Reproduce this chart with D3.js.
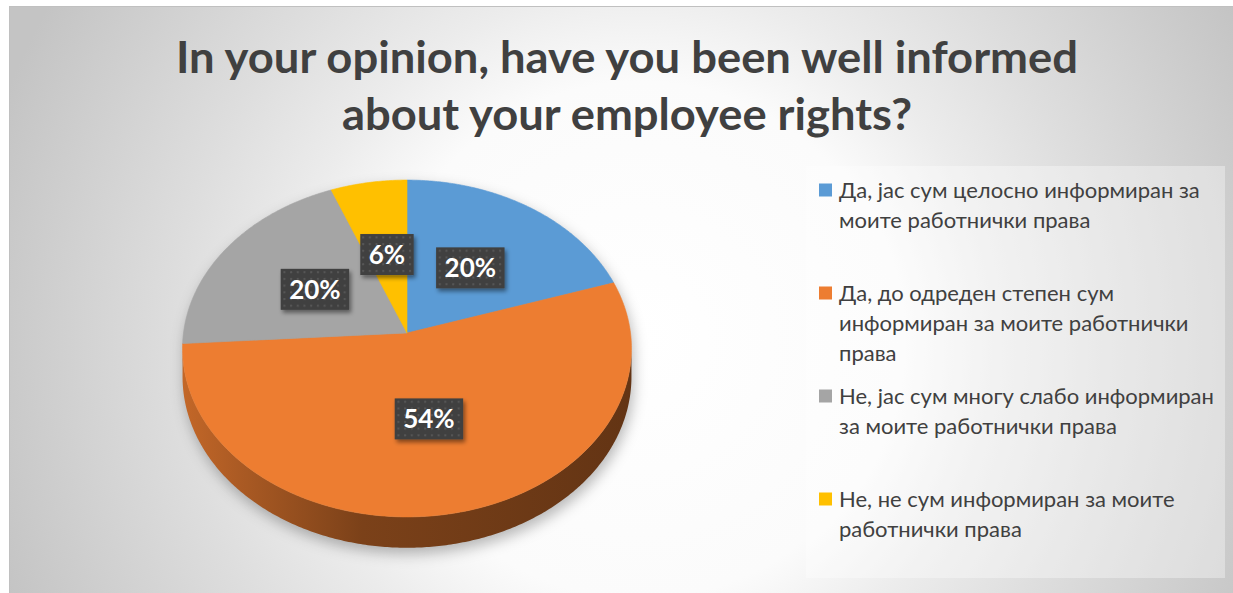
<!DOCTYPE html>
<html>
<head>
<meta charset="utf-8">
<script src="https://cdn.jsdelivr.net/npm/d3@7"></script>
<style>
  html, body { margin: 0; padding: 0; background: #ffffff; }
  svg { display: block; }
</style>
</head>
<body>
<svg id="chart" width="1233" height="593"></svg>
<script>
// ---- data ----
const titleLines = ["In your opinion, have you been well informed", "about your employee rights?"];
const categories = [
  "Да, јас сум целосно информиран за моите работнички права",
  "Да, до одреден степен сум информиран за моите работнички права",
  "Не, јас сум многу слабо информиран за моите работнички права",
  "Не, не сум информиран за моите работнички права"
];
const values = [20, 54, 20, 6];
const colors = ["#5B9BD5", "#ED7D31", "#A5A5A5", "#FFC000"];

// ---- layout ----
const W = 1233, H = 593;
const frame = { x: 9, y: 6, w: 1224, h: 587 };
const pieGeo = { cx: 407, cy: 333, a: 223.5, b: 167, k: 0.092, depth: 28 };
const legendBox = { x: 806, y: 166, w: 419, h: 412 };
const textColor = "#404040";
const titleWidths = [902, 570];

const svg = d3.select("#chart");
const defs = svg.append("defs");

// background: radial light in the middle, grey towards the corners
const bg = defs.append("radialGradient").attr("id", "bgGrad")
  .attr("gradientUnits", "userSpaceOnUse")
  .attr("cx", 640).attr("cy", 340).attr("r", 680);
[[0, "#ffffff"], [0.38, "#fbfbfb"], [0.52, "#ececec"], [0.68, "#dedede"], [1, "#c4c4c4"]]
  .forEach(([o, c]) => bg.append("stop").attr("offset", o).attr("stop-color", c));

svg.append("rect")
  .attr("x", frame.x + 0.5).attr("y", frame.y + 0.5)
  .attr("width", frame.w).attr("height", frame.h)
  .attr("fill", "url(#bgGrad)")
  .attr("stroke", "#c0c0c0").attr("stroke-width", 1);

// ---- title ----
svg.append("text")
  .attr("text-anchor", "middle")
  .attr("font-family", "Lato, 'Open Sans', sans-serif")
  .attr("font-weight", 700)
  .attr("font-size", 43)
  .attr("fill", textColor)
  .selectAll("tspan").data(titleLines).join("tspan")
  .attr("x", 627)
  .attr("y", (d, i) => 73 + i * 57)
  .attr("textLength", (d, i) => titleWidths[i])
  .attr("lengthAdjust", "spacingAndGlyphs")
  .text(d => d);

// ---- pie in perspective ----
const pie = d3.pie().sort(null).value(d => d)(values);
const color = d3.scaleOrdinal().domain(d3.range(values.length)).range(colors);

// project a point of the disk (angle clockwise from 12 o'clock, radius fraction) to the screen
function proj(theta, r) {
  const u = r * Math.sin(theta), v = -r * Math.cos(theta);
  const w = 1 - pieGeo.k * v;
  return [pieGeo.cx + pieGeo.a * u / w, pieGeo.cy + pieGeo.b * v / w, w];
}
function arcPoints(t0, t1, r) {
  const n = Math.max(2, Math.ceil(Math.abs(t1 - t0) / 0.01));
  return d3.range(n + 1).map(i => proj(t0 + (t1 - t0) * i / n, r));
}
const line = d3.line();

// visible side of the cylinder lies between the two silhouette angles
const silR = Math.acos(-pieGeo.k), silL = 2 * Math.PI - silR;
const xMin = proj(silL, 1)[0], xMax = proj(silR, 1)[0];

// soft shadow under the whole disk
const shadow = defs.append("filter").attr("id", "pieShadow")
  .attr("x", "-20%").attr("y", "-20%").attr("width", "140%").attr("height", "140%");
shadow.append("feGaussianBlur").attr("stdDeviation", 7);

const outline = arcPoints(0, 2 * Math.PI, 1).map(p => [p[0], p[1]]);
const lowerRim = arcPoints(silR, silL, 1).map(p => [p[0], p[1] + pieGeo.depth / p[2]]);
svg.append("path")
  .attr("d", "M" + outline.map(p => p.join(",")).join("L") + "Z" +
             "M" + arcPoints(silR, silL, 1).map(p => p[0] + "," + p[1]).join("L") +
             "L" + lowerRim.slice().reverse().map(p => p.join(",")).join("L") + "Z")
  .attr("transform", "translate(2,6)")
  .attr("fill", "#000").attr("fill-opacity", 0.28)
  .attr("filter", "url(#pieShadow)");

const gPie = svg.append("g");

// side walls
pie.forEach((s, i) => {
  const t0 = Math.max(s.startAngle, silR), t1 = Math.min(s.endAngle, silL);
  if (t1 <= t0) return;
  const gid = "wall" + i;
  const c = d3.color(color(i));
  const lg = defs.append("linearGradient").attr("id", gid)
    .attr("gradientUnits", "userSpaceOnUse")
    .attr("x1", xMin).attr("x2", xMax).attr("y1", 0).attr("y2", 0);
  [[0, 0.55], [0.12, 0.9], [0.4, 1.85], [1, 2.45]].forEach(([o, k]) =>
    lg.append("stop").attr("offset", o).attr("stop-color", c.darker(k).formatHex()));
  const top = arcPoints(t0, t1, 1);
  const bottom = top.map(p => [p[0], p[1] + pieGeo.depth / p[2]]).reverse();
  gPie.append("path")
    .attr("d", line(top.map(p => [p[0], p[1]]).concat(bottom)) + "Z")
    .attr("fill", `url(#${gid})`);
});

// top faces
pie.forEach((s, i) => {
  const pts = [proj(0, 0)].concat(arcPoints(s.startAngle, s.endAngle, 1)).map(p => [p[0], p[1]]);
  gPie.append("path")
    .attr("d", line(pts) + "Z")
    .attr("fill", color(i))
    .attr("stroke", color(i)).attr("stroke-width", 0.6);
});

// ---- data labels ----
const dots = defs.append("pattern").attr("id", "dots")
  .attr("patternUnits", "userSpaceOnUse").attr("width", 6.7).attr("height", 6.7);
dots.append("rect").attr("width", 6.7).attr("height", 6.7).attr("fill", "#404040");
dots.append("rect").attr("x", 2).attr("y", 2).attr("width", 2).attr("height", 2).attr("fill", "#575757");

const lblShadow = defs.append("filter").attr("id", "lblShadow")
  .attr("x", "-30%").attr("y", "-30%").attr("width", "170%").attr("height", "170%");
lblShadow.append("feDropShadow").attr("dx", 2).attr("dy", 3).attr("stdDeviation", 2.2)
  .attr("flood-color", "#000").attr("flood-opacity", 0.45);

const gLbl = svg.append("g");
pie.forEach((s, i) => {
  const mid = (s.startAngle + s.endAngle) / 2;
  const [x, y] = proj(mid, 0.5);
  const g = gLbl.append("g").attr("transform", `translate(${x},${y})`);
  const box = g.append("rect").attr("fill", "url(#dots)").attr("filter", "url(#lblShadow)");
  const t = g.append("text")
    .attr("text-anchor", "middle").attr("dy", "0.36em")
    .attr("font-family", "Lato, 'Open Sans', sans-serif")
    .attr("font-weight", 700).attr("font-size", 26)
    .attr("fill", "#ffffff")
    .text(d3.format("d")(s.value) + "%");
  const tw = t.node().getComputedTextLength();
  const bw = tw + 17, bh = 41;
  box.attr("x", -bw / 2).attr("y", -bh / 2).attr("width", bw).attr("height", bh);
});

// ---- legend ----
svg.append("rect")
  .attr("x", legendBox.x).attr("y", legendBox.y)
  .attr("width", legendBox.w).attr("height", legendBox.h)
  .attr("fill", "#ffffff").attr("fill-opacity", 0.35);

const slot = legendBox.h / categories.length;
const lineH = 30, textX = legendBox.x + 33, maxW = 380;
const gLeg = svg.append("g")
  .attr("font-family", "Lato, 'Open Sans', sans-serif")
  .attr("font-size", 22).attr("fill", textColor);

categories.forEach((cat, i) => {
  const y0 = legendBox.y + i * slot + 24;
  gLeg.append("rect")
    .attr("x", legendBox.x + 13).attr("y", y0 - 6.5)
    .attr("width", 13).attr("height", 13)
    .attr("fill", color(i));
  const text = gLeg.append("text");
  // greedy word wrap to the legend width
  const words = cat.split(" ");
  let lineWords = [], row = 0;
  let tspan = text.append("tspan").attr("x", textX).attr("y", y0).attr("dy", "0.35em");
  words.forEach(w => {
    lineWords.push(w);
    tspan.text(lineWords.join(" "));
    if (tspan.node().getComputedTextLength() > maxW && lineWords.length > 1) {
      lineWords.pop();
      tspan.text(lineWords.join(" "));
      lineWords = [w];
      row++;
      tspan = text.append("tspan").attr("x", textX).attr("y", y0 + row * lineH).attr("dy", "0.35em").text(w);
    }
  });
});
</script>
</body>
</html>
